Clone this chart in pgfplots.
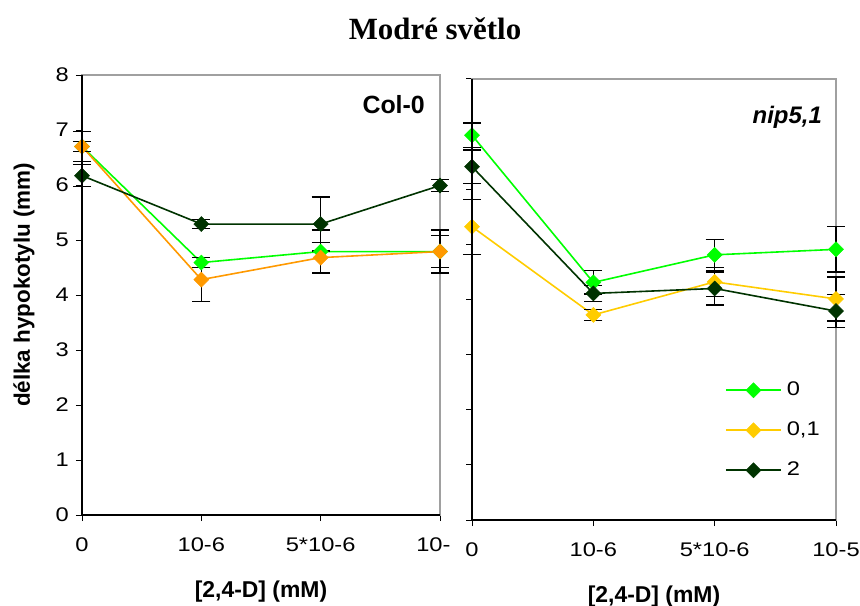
\documentclass[border=0pt]{standalone}
\usepackage{pgfplots}
\pgfplotsset{compat=1.18}
\usepackage{fontspec}
\setmainfont{Liberation Sans}
\newfontfamily\titlefont{Liberation Serif}
\newfontfamily\tickfont[FakeStretch=1.2]{Liberation Sans}
\definecolor{cgreen}{HTML}{00FF00}
\definecolor{corange}{HTML}{FF9900}
\definecolor{cyellow}{HTML}{FFCC00}
\definecolor{cdark}{HTML}{003300}
\definecolor{spine}{HTML}{A0A0A0}
\pgfplotsset{
  panel/.style={
    scale only axis, anchor=south west,
    xmin=0, xmax=3, ymin=0, ymax=8,
    xtick={0,1,2,3}, ytick={0,1,...,8},
    tick align=outside, tick pos=left,
    major tick length=6bp,
    every tick/.style={black, line width=1bp},
    axis line style={draw=spine, line width=1.2bp},
    clip=false,
    /pgf/number format/assume math mode=true,
    tick label style={font=\tickfont\fontsize{19.8}{21}\selectfont},
    yticklabel style={inner sep=0pt, xshift=-7bp},
    xticklabel style={inner sep=0pt, yshift=-17bp},
    xlabel={[2,4-D] (mM)},
    xlabel style={font=\bfseries\fontsize{23}{26}\selectfont, at={(axis description cs:0.5,0)}, anchor=center, yshift=-77bp},
    after end axis/.code={
      \draw[black, line width=1.3bp] (rel axis cs:0,1) -- (rel axis cs:0,0) -- (rel axis cs:1,0);
    },
  },
  ser/.style={color=#1, line width=1.6bp, mark=square*, mark size=5.3bp,
    mark options={rotate=45, fill=#1, draw=#1, line width=0.5bp},
    error bars/.cd, y dir=both, y explicit,
    error bar style={black, line width=1.3bp},
    error mark options={rotate=90, mark size=9bp, black, line width=1.3bp}},
}
\begin{document}
\begin{tikzpicture}
\useasboundingbox (0,0) rectangle (860bp,606bp);
\begin{axis}[panel, at={(82bp,91bp)}, width=358bp, height=440bp,
  xticklabels={0,10-6,5*10-6,10-\phantom{5}},
  ylabel={délka hypokotylu (mm)},
  ylabel style={font=\bfseries\fontsize{22.5}{25}\selectfont, at={(axis description cs:-0.162,0.523)}, anchor=center, rotate=0},
]
\addplot[ser=cgreen] coordinates {(0,6.70) +- (0,0.27) (1,4.59) +- (0,0.09) (2,4.79) +- (0,0.39) (3,4.79) +- (0,0.39)};
\addplot[ser=corange] coordinates {(0,6.70) +- (0,0.09) (1,4.28) +- (0,0.40) (2,4.68) +- (0,0.28) (3,4.79) +- (0,0.29)};
\addplot[ser=cdark] coordinates {(0,6.17) +- (0,0.20) (1,5.29) +- (0,0.08) (2,5.29) +- (0,0.49) (3,5.99) +- (0,0.11)};
\end{axis}
\begin{axis}[panel, at={(472bp,86bp)}, width=364bp, height=441bp,
  xticklabels={0,10-6,5*10-6,10-5},
  yticklabels={},
  legend style={at={(0.695,0.315)}, anchor=north west, draw=none, fill=none,
    font=\tickfont\fontsize{19.8}{21}\selectfont, inner sep=0pt,
    row sep=22bp, nodes={inner sep=0pt, text height=14bp, text depth=4bp},
    /tikz/every odd column/.style={column sep=5bp}},
  legend cell align=left,
  legend image code/.code={\draw[line width=1.6bp, mark repeat=2, mark phase=2] plot coordinates {(0bp,0bp) (27.5bp,0bp) (55bp,0bp)};},
]
\addplot[ser=cgreen] coordinates {(0,6.98) +- (0,0.22) (1,4.31) +- (0,0.21) (2,4.81) +- (0,0.28) (3,4.91) +- (0,0.41)};
\addplot[ser=cyellow] coordinates {(0,5.32) +- (0,0.50) (1,3.72) +- (0,0.10) (2,4.32) +- (0,0.26) (3,4.01) +- (0,0.40)};
\addplot[ser=cdark] coordinates {(0,6.41) +- (0,0.30) (1,4.11) +- (0,0.15) (2,4.20) +- (0,0.30) (3,3.79) +- (0,0.30)};
\legend{0,{0,1},2}
\end{axis}
\node[font=\titlefont\bfseries\fontsize{31}{34}\selectfont] at (435bp,577bp) {Modré světlo};
\node[anchor=east, font=\bfseries\fontsize{25}{28}\selectfont, inner sep=0pt] at (425bp,501bp) {Col-0};
\node[anchor=east, font=\bfseries\itshape\fontsize{24}{27}\selectfont, inner sep=0pt] at (822bp,489bp) {nip5,1};
\end{tikzpicture}
\end{document}
